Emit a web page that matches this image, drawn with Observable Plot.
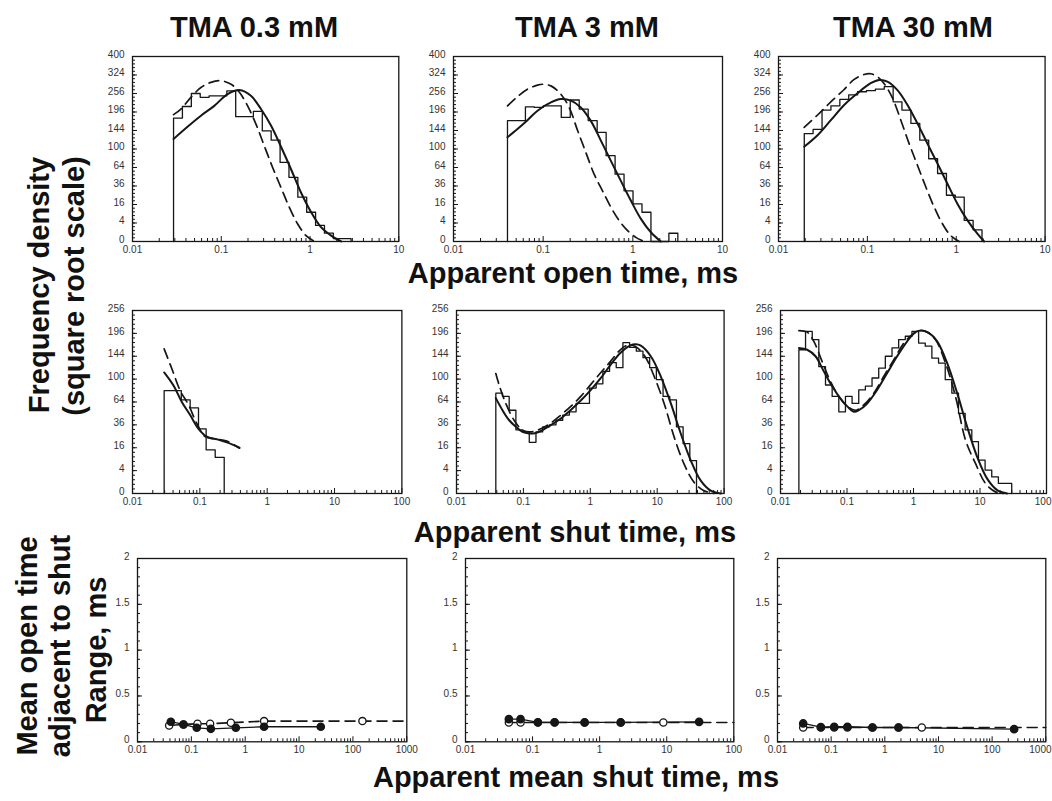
<!DOCTYPE html>
<html><head><meta charset="utf-8">
<script src="https://cdn.jsdelivr.net/npm/d3@7"></script>
<script src="https://cdn.jsdelivr.net/npm/@observablehq/plot@0.6"></script>
<style>
body{margin:0;background:#fff;}
#root{position:relative;width:1052px;height:801px;overflow:hidden;background:#fff;}
</style></head><body><div id="root"></div><script>
// ---------- titles / labels ----------
const columnTitles = ["TMA 0.3 mM", "TMA 3 mM", "TMA 30 mM"];
const rowXLabels = ["Apparent open time, ms", "Apparent shut time, ms", "Apparent mean shut time, ms"];
const freqLabel = ["Frequency density", "(square root scale)"];
const meanLabel = ["Mean open time", "adjacent to shut", "Range, ms"];

// ---------- tick values ----------
const yTicksOpen = [0, 4, 16, 36, 64, 100, 144, 196, 256, 324, 400];
const yTicksShut = [0, 4, 16, 36, 64, 100, 144, 196, 256];
const yTicksMean = [0, 0.5, 1, 1.5, 2];
const xTicks3 = [0.01, 0.1, 1, 10];
const xTicks4 = [0.01, 0.1, 1, 10, 100];
const xTicks5 = [0.01, 0.1, 1, 10, 100, 1000];

// ---------- Row 1: apparent open time ----------
const p1HistEdges = [0.0290, 0.0365, 0.0460, 0.0579, 0.0729, 0.0917, 0.1155, 0.1454, 0.183, 0.230, 0.290, 0.365, 0.460, 0.579, 0.729, 0.917, 1.155, 1.454, 1.83, 2.30, 2.90];
const p1HistHeights = [178, 213, 256, 243, 248, 248, 265, 182, 182, 198, 143, 120, 73, 48, 23, 10, 3, 0.8, 0.1, 0.1];
const p1SolidX = [0.0290, 0.0417, 0.0590, 0.0834, 0.118, 0.160, 0.216, 0.280, 0.363, 0.471, 0.611, 0.791, 1.03, 1.33, 1.73, 2.24];
const p1SolidY = [123, 154, 185, 215, 254, 268, 248, 205, 157, 105, 61, 28, 10, 2.4, 0.4, 0];
const p1DashX = [0.0290, 0.0351, 0.0455, 0.0590, 0.0765, 0.0991, 0.129, 0.160, 0.198, 0.246, 0.305, 0.379, 0.471, 0.584, 0.726, 0.902, 1.12];
const p1DashY = [188, 205, 243, 277, 296, 302, 289, 260, 215, 161, 107, 64, 34, 13.7, 3.6, 0.4, 0];

const p2HistEdges = [0.0400, 0.0504, 0.0634, 0.0798, 0.1005, 0.1265, 0.1592, 0.2005, 0.2524, 0.3177, 0.400, 0.504, 0.634, 0.798, 1.005, 1.265, 1.592, 2.005, 2.524, 3.177];
const p2HistHeights = [171, 171, 212, 210, 215, 215, 180, 234, 205, 171, 139, 86, 53, 30, 16.5, 10, 0, 0, 0.8];
const p2SolidX = [0.040, 0.0517, 0.0668, 0.0865, 0.122, 0.157, 0.204, 0.263, 0.340, 0.440, 0.569, 0.735, 0.950, 1.23, 1.59, 2.05];
const p2SolidY = [127, 148, 172, 200, 226, 237, 232, 210, 170, 119, 76, 43, 19.6, 6, 1, 0];
const p2DashX = [0.040, 0.0517, 0.0668, 0.0865, 0.0983, 0.122, 0.157, 0.195, 0.242, 0.299, 0.370, 0.459, 0.569, 0.704, 0.873, 1.08, 1.34];
const p2DashY = [215, 245, 271, 286, 289, 283, 254, 210, 144, 93, 53, 30, 13.7, 5.1, 1.4, 0.2, 0];

const p3HistEdges = [0.0195, 0.0245, 0.0309, 0.0389, 0.0490, 0.0617, 0.0776, 0.0977, 0.1230, 0.1549, 0.195, 0.245, 0.309, 0.389, 0.490, 0.617, 0.776, 0.977, 1.230, 1.549, 1.95];
const p3HistHeights = [136, 147, 202, 215, 236, 251, 262, 266, 271, 280, 228, 202, 163, 120, 80, 54, 25, 23, 5.2, 1.6];
const p3SolidX = [0.01945, 0.0275, 0.0388, 0.0548, 0.0774, 0.109, 0.136, 0.168, 0.218, 0.283, 0.366, 0.474, 0.615, 0.796, 1.03, 1.34, 1.73, 2.06];
const p3SolidY = [105, 132, 172, 218, 257, 293, 305, 299, 268, 218, 163, 112, 71, 39, 16.7, 5.2, 0.7, 0];
const p3DashX = [0.01945, 0.0275, 0.0388, 0.0548, 0.0710, 0.0919, 0.109, 0.130, 0.154, 0.192, 0.238, 0.295, 0.366, 0.454, 0.564, 0.699, 0.868, 1.08];
const p3DashY = [152, 187, 228, 270, 307, 326, 329, 317, 292, 240, 172, 112, 68, 35, 13.9, 3.7, 0.4, 0];

// ---------- Row 2: apparent shut time ----------
const p4HistEdges = [0.0295, 0.0530, 0.0718, 0.0955, 0.124, 0.169, 0.230];
const p4HistHeights = [81, 67, 56, 32, 14.6, 10];
const p4SolidX = [0.0295, 0.0406, 0.0540, 0.0718, 0.0955, 0.127, 0.179, 0.252, 0.388];
const p4SolidY = [112, 89, 64, 47, 32, 24.7, 22.5, 20, 16.1];
const p4DashX = [0.0295, 0.0384, 0.0510, 0.0679, 0.0902, 0.120, 0.169, 0.252, 0.388];
const p4DashY = [160, 119, 81, 60, 37.5, 24.7, 22.7, 21, 15.7];

const p5HistEdges = [0.0387, 0.0487, 0.0613, 0.0772, 0.0972, 0.1224, 0.1541, 0.1940, 0.2442, 0.3074, 0.387, 0.487, 0.613, 0.772, 0.972, 1.224, 1.541, 1.940, 2.442, 3.074, 3.87, 4.87, 6.13, 7.72, 9.72, 12.24, 15.41, 19.40, 24.42, 30.74, 38.7];
const p5HistHeights = [77, 72, 53, 31, 29, 20, 29, 34, 36, 41, 47, 51, 62, 62, 85, 92, 114, 131, 121, 174, 163, 155, 141, 121, 99, 72, 67, 34, 19, 8.3];
const p5SolidX = [0.0387, 0.0487, 0.0613, 0.0771, 0.0969, 0.122, 0.153, 0.193, 0.257, 0.362, 0.511, 0.721, 1.02, 1.44, 2.02, 2.86, 4.03, 4.79, 5.69, 8.02, 11.3, 16.0, 22.5, 31.8, 44.8, 63.2, 89.1];
const p5SolidY = [69.5, 53, 41, 34, 29, 27.5, 28, 30.7, 35.8, 43, 53.4, 66, 82, 102, 127, 152, 168, 170, 167, 144, 105, 62, 27.5, 8.3, 1.25, 0.06, 0];
const p5DashX = [0.0387, 0.0434, 0.0546, 0.0727, 0.0969, 0.129, 0.182, 0.257, 0.362, 0.511, 0.721, 1.02, 1.44, 2.02, 2.86, 3.59, 4.27, 5.07, 6.75, 8.99, 12.7, 17.9, 25.2, 35.6, 50.2, 70.9];
const p5DashY = [110, 90, 62, 41, 30.7, 29, 32, 38, 47, 58, 72, 91, 112, 134, 159, 168, 168, 162, 141, 105, 62, 24.5, 6.7, 0.95, 0.06, 0];

const p6HistEdges = [0.0189, 0.0238, 0.0300, 0.0377, 0.0475, 0.0598, 0.0753, 0.0948, 0.1193, 0.1502, 0.189, 0.238, 0.300, 0.377, 0.475, 0.598, 0.753, 0.948, 1.193, 1.502, 1.89, 2.38, 3.00, 3.77, 4.75, 5.98, 7.53, 9.48, 11.93, 15.02, 18.9, 23.8, 30.0];
const p6HistHeights = [158, 201, 181, 123, 90, 72, 51, 72, 62, 82, 88, 102, 120, 144, 162, 181, 189, 201, 173, 166, 140, 130, 99, 77, 49, 31, 20.5, 8.5, 4.2, 2.1, 0.77, 0.77];
const p6SolidX = [0.0189, 0.0252, 0.0336, 0.0448, 0.0598, 0.0798, 0.101, 0.127, 0.151, 0.201, 0.284, 0.402, 0.568, 0.803, 1.07, 1.35, 1.70, 2.27, 3.21, 4.54, 6.41, 9.06, 12.8, 18.1, 25.6];
const p6SolidY = [162, 158, 144, 114, 88, 69, 58, 51, 53, 62, 82, 111, 144, 177, 199, 203, 197, 177, 130, 77, 34, 10.3, 1.7, 0.09, 0];
const p6DashX = [0.0189, 0.0252, 0.0317, 0.0423, 0.0565, 0.0754, 0.101, 0.134, 0.179, 0.253, 0.358, 0.506, 0.716, 0.955, 1.27, 1.61, 2.14, 3.03, 4.28, 6.05, 8.55, 12.1, 17.1, 22.8];
const p6DashY = [203, 199, 177, 133, 96, 72, 58, 53, 60, 77, 105, 137, 173, 193, 203, 199, 181, 130, 72, 21.9, 6.9, 0.77, 0.02, 0];

// ---------- Row 3: mean open time adjacent to shut time ranges ----------
const p7OpenX = [0.0387, 0.0714, 0.130, 0.223, 0.541, 2.24, 150];
const p7OpenY = [0.178, 0.189, 0.197, 0.197, 0.208, 0.226, 0.226];
const p7FillX = [0.0416, 0.0714, 0.126, 0.230, 0.669, 2.24, 25.3];
const p7FillY = [0.219, 0.189, 0.153, 0.142, 0.153, 0.164, 0.164];
const p7DashX = [0.0387, 0.0714, 0.130, 0.223, 0.541, 2.24, 150, 1000];
const p7DashY = [0.178, 0.189, 0.197, 0.197, 0.208, 0.226, 0.226, 0.226];

const p8OpenX = [0.0443, 0.0662, 0.120, 0.213, 0.597, 2.06, 8.91];
const p8OpenY = [0.211, 0.211, 0.211, 0.211, 0.211, 0.211, 0.211];
const p8FillX = [0.0443, 0.0662, 0.120, 0.213, 0.597, 2.06, 30.4];
const p8FillY = [0.247, 0.247, 0.213, 0.213, 0.211, 0.211, 0.218];
const p8DashX = [0.0443, 0.0662, 0.120, 0.213, 0.597, 2.06, 8.91, 100];
const p8DashY = [0.211, 0.211, 0.211, 0.211, 0.211, 0.211, 0.211, 0.211];

const p9OpenX = [0.0301, 0.0642, 0.114, 0.201, 0.589, 1.80, 4.89];
const p9OpenY = [0.156, 0.156, 0.156, 0.156, 0.156, 0.156, 0.156];
const p9FillX = [0.0301, 0.0642, 0.114, 0.201, 0.589, 1.80, 257];
const p9FillY = [0.200, 0.160, 0.164, 0.164, 0.156, 0.156, 0.138];
const p9DashX = [0.0301, 0.0642, 0.114, 0.201, 0.589, 1.80, 4.89, 1000];
const p9DashY = [0.156, 0.156, 0.156, 0.156, 0.156, 0.156, 0.156, 0.156];

// ---------- helpers ----------
const root = document.getElementById("root");
const zip = (xs, ys) => xs.map((x, i) => ({x, y: ys[i]}));
function histPoints(edges, heights) {
  const pts = [{x: edges[0], y: 0}];
  heights.forEach((h, i) => pts.push({x: edges[i], y: h}));
  pts.push({x: edges[edges.length - 1], y: 0});
  return pts;
}
function logMinor(domain) {
  const out = [];
  for (let e = Math.round(Math.log10(domain[0])); e < Math.round(Math.log10(domain[1])); e++)
    for (let k = 2; k <= 9; k++) out.push(+(k * Math.pow(10, e)).toPrecision(3));
  return out;
}
const fmt = d => String(d);
const INK = "#161616";
const TXT = "#333";
const PAGE_W = 1052;

function panel(frame, xDomain, yType, yDomain, yMajor, yMinor, xMajor, marks) {
  const [x0, x1, y0, y1] = frame;
  const mL = 36, mR = 12, mT = 10, mB = 26;
  // the rightmost tick label is kept inside the page
  const lastLabel = xMajor[xMajor.length - 1];
  const labelHalf = String(lastLabel).length * 2.9;
  const tightRight = x1 + labelHalf > PAGE_W - 1;
  const mainLabels = tightRight ? xMajor.slice(0, -1) : xMajor;
  const extra = tightRight ? [
    Plot.axisX({ticks: [lastLabel], tickSize: 0, tickPadding: 4, tickFormat: fmt, label: null,
      textAnchor: "end", dx: (PAGE_W - 1) - x1, fill: TXT})
  ] : [];
  const chart = Plot.plot({
    width: (x1 - x0) + mL + mR, height: (y1 - y0) + mT + mB,
    marginLeft: mL, marginRight: mR, marginTop: mT, marginBottom: mB,
    style: {background: "transparent", fontFamily: "'Liberation Sans', Arial, sans-serif", fontSize: "10px", color: TXT, overflow: "visible"},
    x: {type: "log", domain: xDomain, label: null},
    y: {type: yType, domain: yDomain, label: null},
    marks: [
      Plot.axisX({ticks: logMinor(xDomain), tickSize: -3, fill: "none", label: null, stroke: INK}),
      Plot.axisX({ticks: xMajor, tickSize: -5, fill: "none", label: null, stroke: INK}),
      Plot.axisX({ticks: mainLabels, tickSize: 0, tickPadding: 4, tickFormat: fmt, label: null, fill: TXT}),
      ...extra,
      Plot.axisY({ticks: yMinor, tickSize: -3, fill: "none", label: null, stroke: INK}),
      Plot.axisY({ticks: yMajor, tickSize: -5, fill: "none", label: null, stroke: INK}),
      Plot.axisY({ticks: yMajor, tickSize: 0, tickPadding: 8, tickFormat: fmt, label: null, fill: TXT, dy: -2}),
      ...marks,
      Plot.frame({stroke: INK, strokeWidth: 1.3})
    ]
  });
  chart.style.position = "absolute";
  chart.style.left = (x0 - mL) + "px";
  chart.style.top = (y0 - mT) + "px";
  root.appendChild(chart);
}
function histMarks(edges, heights, sx, sy, dx, dy) {
  return [
    Plot.line(histPoints(edges, heights), {x: "x", y: "y", curve: "step-after", stroke: INK, strokeWidth: 1.3}),
    Plot.line(zip(dx, dy), {x: "x", y: "y", curve: "catmull-rom", stroke: INK, strokeWidth: 1.7, strokeDasharray: "10,6"}),
    Plot.line(zip(sx, sy), {x: "x", y: "y", curve: "catmull-rom", stroke: INK, strokeWidth: 2})
  ];
}
function meanMarks(ox, oy, fx, fy, dx, dy) {
  return [
    Plot.line(zip(dx, dy), {x: "x", y: "y", stroke: INK, strokeWidth: 1.6, strokeDasharray: "10,6"}),
    Plot.line(zip(fx, fy), {x: "x", y: "y", stroke: INK, strokeWidth: 1.3}),
    Plot.dot(zip(ox, oy), {x: "x", y: "y", r: 3.6, fill: "white", stroke: INK, strokeWidth: 1.3}),
    Plot.dot(zip(fx, fy), {x: "x", y: "y", r: 3.6, fill: INK, stroke: INK})
  ];
}
const sqrtMinor = max => d3.range(0, Math.sqrt(max) + 1e-9, 0.4).map(s => +(s * s).toFixed(3));
const linMinor = d3.range(0, 2.0001, 0.1).map(v => +v.toFixed(2));

// row 1
panel([131.7, 398, 56, 241], [0.01, 10], "sqrt", [0, 400], yTicksOpen, sqrtMinor(400), xTicks3,
  histMarks(p1HistEdges, p1HistHeights, p1SolidX, p1SolidY, p1DashX, p1DashY));
panel([452.7, 721.7, 56, 241], [0.01, 10], "sqrt", [0, 400], yTicksOpen, sqrtMinor(400), xTicks3,
  histMarks(p2HistEdges, p2HistHeights, p2SolidX, p2SolidY, p2DashX, p2DashY));
panel([777.7, 1044.3, 56, 241], [0.01, 10], "sqrt", [0, 400], yTicksOpen, sqrtMinor(400), xTicks3,
  histMarks(p3HistEdges, p3HistHeights, p3SolidX, p3SolidY, p3DashX, p3DashY));
// row 2
panel([132.3, 401.7, 309.5, 492.5], [0.01, 100], "sqrt", [0, 256], yTicksShut, sqrtMinor(256), xTicks4,
  histMarks(p4HistEdges, p4HistHeights, p4SolidX, p4SolidY, p4DashX, p4DashY));
panel([455.7, 723.3, 309.5, 492.5], [0.01, 100], "sqrt", [0, 256], yTicksShut, sqrtMinor(256), xTicks4,
  histMarks(p5HistEdges, p5HistHeights, p5SolidX, p5SolidY, p5DashX, p5DashY));
panel([780, 1046, 309.5, 492.5], [0.01, 100], "sqrt", [0, 256], yTicksShut, sqrtMinor(256), xTicks4,
  histMarks(p6HistEdges, p6HistHeights, p6SolidX, p6SolidY, p6DashX, p6DashY));
// row 3
panel([136.7, 406, 557.7, 741], [0.01, 1000], "linear", [0, 2], yTicksMean, linMinor, xTicks5,
  meanMarks(p7OpenX, p7OpenY, p7FillX, p7FillY, p7DashX, p7DashY));
panel([465, 733.3, 557.7, 741], [0.01, 100], "linear", [0, 2], yTicksMean, linMinor, xTicks4,
  meanMarks(p8OpenX, p8OpenY, p8FillX, p8FillY, p8DashX, p8DashY));
panel([777, 1045.3, 557.7, 741], [0.01, 1000], "linear", [0, 2], yTicksMean, linMinor, xTicks5,
  meanMarks(p9OpenX, p9OpenY, p9FillX, p9FillY, p9DashX, p9DashY));

// ---------- text overlay ----------
const svg = d3.select(root).append("svg")
  .attr("width", 1052).attr("height", 801)
  .style("position", "absolute").style("left", 0).style("top", 0).style("pointer-events", "none")
  .attr("font-family", "'Liberation Sans', Arial, sans-serif").attr("font-weight", "bold")
  .attr("font-size", 29).attr("fill", "#111").attr("text-anchor", "middle");
const titleX = [254, 587, 913];
columnTitles.forEach((t, i) => svg.append("text").attr("x", titleX[i]).attr("y", 37).text(t));
const xlabPos = [[573, 283], [575, 542], [576, 787]];
rowXLabels.forEach((t, i) => svg.append("text").attr("x", xlabPos[i][0]).attr("y", xlabPos[i][1]).text(t));
const freqPos = [[49, 285], [84, 286]];
freqLabel.forEach((t, i) => svg.append("text").attr("transform", `translate(${freqPos[i][0]},${freqPos[i][1]}) rotate(-90)`).text(t));
const meanPos = [[37, 646], [70, 646], [106, 650]];
meanLabel.forEach((t, i) => svg.append("text").attr("transform", `translate(${meanPos[i][0]},${meanPos[i][1]}) rotate(-90)`).text(t));
</script></body></html>
